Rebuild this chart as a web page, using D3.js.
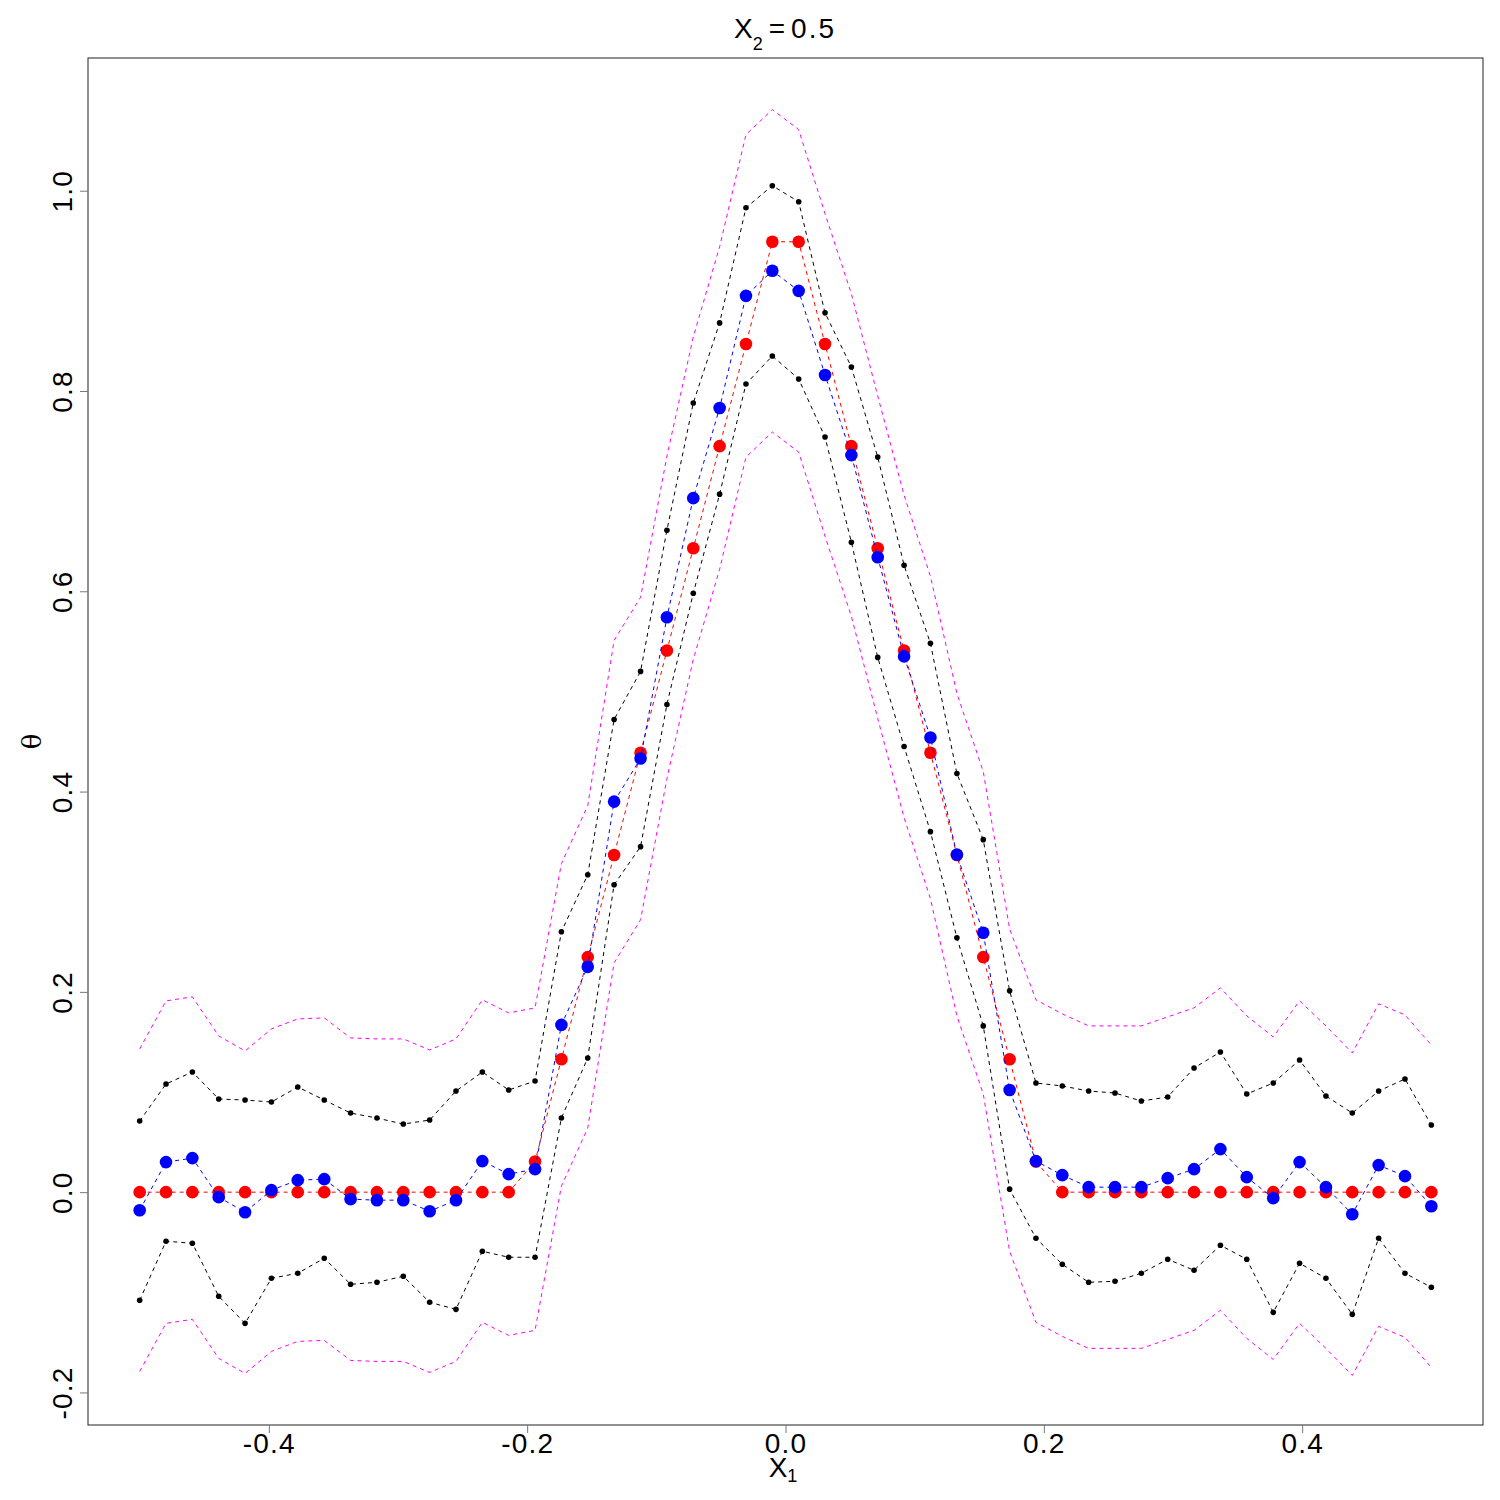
<!DOCTYPE html>
<html>
<head>
<meta charset="utf-8">
<script src="https://cdn.jsdelivr.net/npm/d3@7"></script>
<style>
  html, body { margin: 0; padding: 0; background: #fff; }
  svg { display: block; font-family: "Liberation Sans", Arial, Helvetica, sans-serif; }
</style>
</head>
<body>
<svg id="chart" width="1500" height="1500"></svg>
<script>
// ---------- data ----------
const xs = [-0.5, -0.4796, -0.4592, -0.4388, -0.4184, -0.3980, -0.3776, -0.3571, -0.3367, -0.3163,
            -0.2959, -0.2755, -0.2551, -0.2347, -0.2143, -0.1939, -0.1735, -0.1531, -0.1327, -0.1122,
            -0.0918, -0.0714, -0.0510, -0.0306, -0.0102, 0.0102, 0.0306, 0.0510, 0.0714, 0.0918,
            0.1122, 0.1327, 0.1531, 0.1735, 0.1939, 0.2143, 0.2347, 0.2551, 0.2755, 0.2959,
            0.3163, 0.3367, 0.3571, 0.3776, 0.3980, 0.4184, 0.4388, 0.4592, 0.4796, 0.5];

const truth = [0, 0, 0, 0, 0, 0, 0, 0, 0, 0,
               0, 0, 0, 0, 0, 0.0306, 0.1327, 0.2347, 0.3367, 0.4388,
               0.5408, 0.6429, 0.7449, 0.8469, 0.9490, 0.9490, 0.8469, 0.7449, 0.6429, 0.5408,
               0.4388, 0.3367, 0.2347, 0.1327, 0.0306, 0, 0, 0, 0, 0,
               0, 0, 0, 0, 0, 0, 0, 0, 0, 0];

const estimate = [-0.018, 0.030, 0.034, -0.005, -0.020, 0.002, 0.012, 0.013, -0.007, -0.008,
                  -0.008, -0.019, -0.008, 0.031, 0.018, 0.023, 0.167, 0.225, 0.390, 0.433,
                  0.574, 0.693, 0.783, 0.895, 0.920, 0.900, 0.816, 0.736, 0.634, 0.535,
                  0.454, 0.337, 0.259, 0.102, 0.031, 0.017, 0.005, 0.005, 0.005, 0.014,
                  0.023, 0.043, 0.015, -0.006, 0.030, 0.005, -0.022, 0.027, 0.016, -0.014];

const ciUpper = [0.071, 0.108, 0.120, 0.093, 0.092, 0.090, 0.105, 0.092, 0.079, 0.074,
                 0.068, 0.072, 0.101, 0.120, 0.102, 0.111, 0.260, 0.317, 0.472, 0.520,
                 0.661, 0.788, 0.868, 0.983, 1.005, 0.989, 0.878, 0.824, 0.734, 0.626,
                 0.548, 0.418, 0.352, 0.201, 0.109, 0.106, 0.101, 0.099, 0.091, 0.095,
                 0.124, 0.140, 0.098, 0.109, 0.132, 0.096, 0.079, 0.101, 0.113, 0.067];

const ciLower = [-0.108, -0.049, -0.051, -0.104, -0.131, -0.086, -0.081, -0.066, -0.092, -0.090,
                 -0.084, -0.110, -0.117, -0.059, -0.065, -0.065, 0.074, 0.134, 0.307, 0.345,
                 0.487, 0.598, 0.697, 0.807, 0.835, 0.812, 0.754, 0.649, 0.534, 0.445,
                 0.360, 0.254, 0.166, 0.003, -0.046, -0.072, -0.090, -0.089, -0.081, -0.067,
                 -0.078, -0.053, -0.067, -0.120, -0.071, -0.086, -0.122, -0.046, -0.081, -0.095];

const bandUpper = [0.143, 0.191, 0.195, 0.156, 0.141, 0.163, 0.173, 0.174, 0.154, 0.153,
                   0.153, 0.142, 0.153, 0.192, 0.179, 0.184, 0.328, 0.386, 0.551, 0.594,
                   0.735, 0.854, 0.944, 1.056, 1.081, 1.061, 0.977, 0.897, 0.795, 0.696,
                   0.615, 0.498, 0.420, 0.263, 0.192, 0.178, 0.166, 0.166, 0.166, 0.175,
                   0.184, 0.204, 0.176, 0.155, 0.191, 0.166, 0.139, 0.188, 0.177, 0.147];

const bandLower = [-0.179, -0.131, -0.127, -0.166, -0.181, -0.159, -0.149, -0.148, -0.168, -0.169,
                   -0.169, -0.180, -0.169, -0.130, -0.143, -0.138, 0.006, 0.064, 0.229, 0.272,
                   0.413, 0.532, 0.622, 0.734, 0.759, 0.739, 0.655, 0.575, 0.473, 0.374,
                   0.293, 0.176, 0.098, -0.059, -0.130, -0.144, -0.156, -0.156, -0.156, -0.147,
                   -0.138, -0.118, -0.146, -0.167, -0.131, -0.156, -0.183, -0.134, -0.145, -0.175];

const xTicks = [-0.4, -0.2, 0.0, 0.2, 0.4];
const xTickLabels = ["-0.4", "-0.2", "0.0", "0.2", "0.4"];
const yTicks = [-0.2, 0.0, 0.2, 0.4, 0.6, 0.8, 1.0];
const yTickLabels = ["-0.2", "0.0", "0.2", "0.4", "0.6", "0.8", "1.0"];

// ---------- layout ----------
const L = 88, R = 1483, T = 58, B = 1425;
const FONT = 28;

const svg = d3.select("#chart");
svg.append("rect").attr("width", 1500).attr("height", 1500).attr("fill", "#fff");

const x = d3.scaleLinear().domain([-0.54, 0.54]).range([L, R]);
const y = d3.scaleLinear().domain([-0.2325, 1.1325]).range([B, T]);

const idx = d3.range(xs.length);
function lineOf(arr) {
  return d3.line().x(i => x(xs[i])).y(i => y(arr[i]))(idx);
}

const plot = svg.append("g");

// simultaneous band (magenta)
[bandUpper, bandLower].forEach(arr => {
  plot.append("path").attr("d", lineOf(arr))
    .attr("fill", "none").attr("stroke", "#ff00ff").attr("stroke-width", 1)
    .attr("stroke-dasharray", "4,4");
});

// pointwise interval (black)
[ciUpper, ciLower].forEach(arr => {
  plot.append("path").attr("d", lineOf(arr))
    .attr("fill", "none").attr("stroke", "#000").attr("stroke-width", 1)
    .attr("stroke-dasharray", "4,4");
  plot.append("g").selectAll("circle").data(idx).join("circle")
    .attr("cx", i => x(xs[i])).attr("cy", i => y(arr[i])).attr("r", 2.8)
    .attr("fill", "#000");
});

// truth (red)
plot.append("path").attr("d", lineOf(truth))
  .attr("fill", "none").attr("stroke", "#ff0000").attr("stroke-width", 1)
  .attr("stroke-dasharray", "4,4");
plot.append("g").selectAll("circle").data(idx).join("circle")
  .attr("cx", i => x(xs[i])).attr("cy", i => y(truth[i])).attr("r", 6.3)
  .attr("fill", "#ff0000");

// estimate (blue)
plot.append("path").attr("d", lineOf(estimate))
  .attr("fill", "none").attr("stroke", "#0000ff").attr("stroke-width", 1)
  .attr("stroke-dasharray", "4,4");
plot.append("g").selectAll("circle").data(idx).join("circle")
  .attr("cx", i => x(xs[i])).attr("cy", i => y(estimate[i])).attr("r", 6.3)
  .attr("fill", "#0000ff");

// box
svg.append("rect").attr("x", L).attr("y", T).attr("width", R - L).attr("height", B - T)
  .attr("fill", "none").attr("stroke", "#222").attr("stroke-width", 1);

// x axis
const gx = svg.append("g").attr("transform", `translate(0,${B})`)
  .call(d3.axisBottom(x).tickValues(xTicks).tickFormat((d, i) => xTickLabels[i])
        .tickSize(8).tickPadding(0));
gx.select(".domain").remove();
gx.selectAll(".tick line").attr("stroke", "#777");
gx.selectAll(".tick text")
  .attr("font-size", FONT).attr("font-family", "Liberation Sans, Arial, sans-serif")
  .attr("fill", "#000").attr("dy", "0.7em").attr("letter-spacing", 1.2);

// y axis
const gy = svg.append("g").attr("transform", `translate(${L},0)`)
  .call(d3.axisLeft(y).tickValues(yTicks).tickFormat((d, i) => yTickLabels[i])
        .tickSize(8).tickPadding(8));
gy.select(".domain").remove();
gy.selectAll(".tick line").attr("stroke", "#777");
gy.selectAll(".tick text")
  .attr("font-size", FONT).attr("font-family", "Liberation Sans, Arial, sans-serif")
  .attr("fill", "#000")
  .attr("transform", "rotate(-90)")
  .attr("x", 0).attr("y", -16).attr("dy", null)
  .attr("text-anchor", "middle").attr("letter-spacing", 1.2);

// axis titles
const xt = svg.append("text").attr("x", 783).attr("y", 1477)
  .attr("text-anchor", "middle").attr("font-size", FONT).attr("fill", "#000");
xt.append("tspan").text("X");
xt.append("tspan").attr("font-size", 18).attr("dy", 5).text("1");

svg.append("text").attr("transform", `translate(41,${(T + B) / 2}) rotate(-90)`)
  .attr("text-anchor", "middle").attr("font-size", 26).attr("fill", "#000")
  .attr("font-family", "DejaVu Serif, Liberation Serif, serif")
  .text("θ");

// title
const tt = svg.append("text").attr("x", 785).attr("y", 38)
  .attr("text-anchor", "middle").attr("font-size", FONT).attr("fill", "#000");
tt.append("tspan").text("X");
tt.append("tspan").attr("font-size", 18).attr("dy", 12).text("2");
tt.append("tspan").attr("dy", -12).attr("dx", 6).text("=");
tt.append("tspan").attr("dx", 6).attr("letter-spacing", 2).text("0.5");
</script>
</body>
</html>
